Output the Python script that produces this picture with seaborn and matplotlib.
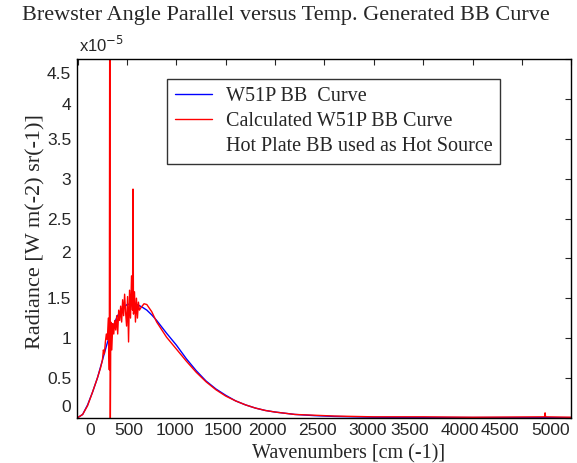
import pandas as pd
import seaborn as sns
import matplotlib
matplotlib.use("Agg")
import matplotlib.pyplot as plt
from matplotlib.ticker import FuncFormatter
from matplotlib.transforms import ScaledTranslation

# Radiance values in units of 1e-5 W m-2 sr-1
blue_wn = [0, 50, 100, 150, 200, 250, 300, 350, 400, 450, 500, 550, 600, 650,
           700, 750, 800, 900, 1000, 1100, 1200, 1300, 1400, 1500, 1600, 1700,
           1800, 1900, 2000, 2200, 2400, 2600, 3000, 3500, 4000, 5000]
blue_rad = [0.0, 0.04, 0.16, 0.32, 0.50, 0.72, 0.94, 1.12, 1.27, 1.37, 1.42, 1.43,
            1.42, 1.39, 1.35, 1.29, 1.22, 1.06, 0.91, 0.74, 0.59, 0.46, 0.36,
            0.28, 0.21, 0.16, 0.12, 0.09, 0.07, 0.04, 0.025, 0.015, 0.005,
            0.002, 0.001, 0.0]

red_wn = [0, 50, 100, 150, 200, 230, 250, 260, 270, 280, 290, 300, 310, 320,
          325, 330, 335, 345, 355, 365, 375, 385, 395, 405, 415, 425, 435, 445,
          455, 465, 475, 485, 495, 505, 515, 525, 535, 545, 555, 560, 565, 575,
          585, 595, 605, 615, 625, 640, 672, 700, 750, 800, 900, 1000, 1100,
          1200, 1300, 1400, 1500, 1600, 1700, 1800, 1900, 2000, 2200, 2400,
          2600, 3000, 3500, 4000, 4730, 4735, 4740, 5000]
red_rad = [0.0, 0.04, 0.15, 0.32, 0.50, 0.62, 0.72, 0.85, 0.80, 0.95, 1.05, 0.98,
           1.25, 0.60, 6.0, -0.2, 1.20, 0.85, 1.18, 1.05, 1.22, 1.10, 1.28, 1.05,
           1.35, 1.22, 1.40, 1.20, 1.48, 1.28, 1.55, 1.32, 1.15, 1.52, 0.95,
           1.60, 1.25, 1.78, 1.35, 2.87, 1.30, 1.58, 1.20, 1.50, 1.25, 1.45,
           1.35, 1.38, 1.43, 1.42, 1.33, 1.20, 1.01, 0.86, 0.71, 0.57, 0.45,
           0.35, 0.27, 0.21, 0.16, 0.12, 0.09, 0.07, 0.04, 0.03, 0.02, 0.01,
           0.01, 0.005, 0.01, 0.06, 0.01, 0.005]

x_ticks = [0, 500, 1000, 1500, 2000, 2500, 3000, 3500, 4000, 4500, 5000]
y_ticks = [0, 0.5, 1, 1.5, 2, 2.5, 3, 3.5, 4, 4.5]

blue = pd.DataFrame({"wn": blue_wn, "rad": [r * 1e-5 for r in blue_rad]})
red = pd.DataFrame({"wn": red_wn, "rad": [r * 1e-5 for r in red_rad]})

sns.set_style("white")
serif = ["Liberation Serif", "DejaVu Serif"]
sans = ["Liberation Sans", "DejaVu Sans"]

fig = plt.figure(figsize=(5.77, 4.63), dpi=100)
ax = fig.add_axes([0.133, 0.098, 0.857, 0.774])

sns.lineplot(data=blue, x="wn", y="rad", color="#0000ff", lw=1.0,
             estimator=None, sort=False, ax=ax, label="W51P BB  Curve")
sns.lineplot(data=red, x="wn", y="rad", color="#ff0000", lw=1.0,
             estimator=None, sort=False, ax=ax, label="Calculated W51P BB Curve")
ax.plot([], [], color="none", label="Hot Plate BB used as Hot Source")

ax.set_xlim(-10, 5000)
ax.set_ylim(0, 4.5e-5)
ax.set_xticks(x_ticks)
ax.set_yticks([t * 1e-5 for t in y_ticks])
ax.yaxis.set_major_formatter(FuncFormatter(lambda v, p: "%g" % round(v / 1e-5, 2)))
ax.tick_params(direction="in", length=4, width=0.8, top=True, right=True,
               labelsize=12.5, pad=4)
for s in ax.spines.values():
    s.set_color("black")
    s.set_linewidth(1.0)

fig.canvas.draw()
# tick labels in the original sit a bit off their ticks (pixel shifts)
x_shift = [12, 1.5, -1, -2.5, -8, -7, -6, -14, -13, -22, -21]
y_shift = [12, 0, 0, 0, 6, 0, 0, 0, -5, -14]
for lab, dx in zip(ax.get_xticklabels(), x_shift):
    lab.set_family(sans)
    lab.set_transform(lab.get_transform() + ScaledTranslation(dx / 100, 0, fig.dpi_scale_trans))
for lab, dy in zip(ax.get_yticklabels(), y_shift):
    lab.set_family(sans)
    lab.set_transform(lab.get_transform() + ScaledTranslation(0, dy / 100, fig.dpi_scale_trans))

ax.set_xlabel("Wavenumbers [cm (-1)]", family=serif, fontsize=14.5)
ax.xaxis.set_label_coords(0.549, -0.075)
ax.set_ylabel("Radiance [W m(-2) sr(-1)]", family=serif, fontsize=16)
ax.yaxis.set_label_coords(-0.063, 0.52)
fig.text(0.038, 0.967, "Brewster Angle Parallel versus Temp. Generated BB Curve",
         family=serif, fontsize=16, va="center", ha="left")
ax.text(0.005, 1.012, "x10$^{-5}$", transform=ax.transAxes, family=sans,
        fontsize=12, ha="left", va="bottom")

leg = ax.legend(loc="upper left", bbox_to_anchor=(0.183, 0.945), borderaxespad=0,
                frameon=True, fancybox=False, edgecolor="black",
                prop={"family": serif, "size": 14.5}, handlelength=1.8,
                borderpad=0.4, labelspacing=0.3, handletextpad=0.7)
leg.get_frame().set_linewidth(1.0)

fig.savefig("out.png", dpi=100)
